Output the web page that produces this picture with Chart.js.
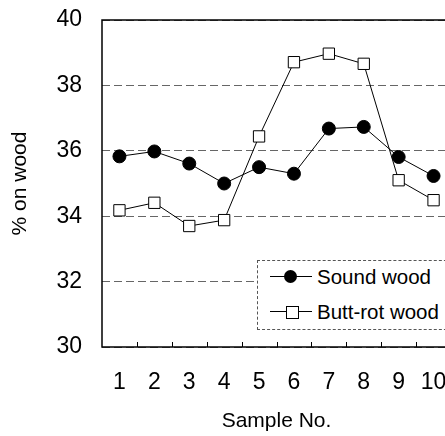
<!DOCTYPE html>
<html>
<head>
<meta charset="utf-8">
<script src="https://cdn.jsdelivr.net/npm/chart.js@4"></script>
<style>
  html, body { margin: 0; padding: 0; background: #fff; overflow: hidden; }
  #wrap { position: relative; width: 445px; height: 436px; overflow: hidden; }
  #grafik { display: block; }
  #legende {
    position: absolute; left: 257px; top: 260px; width: 200px; height: 70px;
    border: 1px dashed #555; box-sizing: border-box; background: #fff;
    font-family: "Liberation Sans", Arial, sans-serif; font-size: 20.5px; color: #000;
  }
  .satir { position: absolute; left: 12px; height: 24px; line-height: 24px; white-space: nowrap; }
  .ornek { display: inline-block; position: relative; width: 42px; height: 24px; vertical-align: top; margin-right: 5px; }
  .ornek .cizgi { position: absolute; left: 0; right: 0; top: 11.5px; border-top: 1px solid #000; }
  .ornek .daire { position: absolute; left: 13.5px; top: 5.5px; width: 13px; height: 13px; border-radius: 50%; background: #000; }
  .ornek .kare { position: absolute; left: 16px; top: 6px; width: 11px; height: 11px; border: 1px solid #000; background: #fff; }
</style>
</head>
<body>
<div id="wrap">
  <canvas id="grafik" width="460" height="436"></canvas>
  <div id="legende">
    <div class="satir" style="top:3.5px"><span class="ornek"><span class="cizgi"></span><span class="daire"></span></span><span id="lbl1"></span></div>
    <div class="satir" style="top:38.5px"><span class="ornek"><span class="cizgi"></span><span class="kare"></span></span><span id="lbl2"></span></div>
  </div>
</div>
<script>
// Veriler
const ornekNo = ['1', '2', '3', '4', '5', '6', '7', '8', '9', '10'];
const saglamOdun = [35.83, 35.98, 35.61, 35.0, 35.5, 35.3, 36.68, 36.73, 35.81, 35.23];
const curukOdun = [34.18, 34.41, 33.7, 33.88, 36.44, 38.71, 38.97, 38.66, 35.1, 34.49];
const seriAdlari = ['Sound wood', 'Butt-rot wood'];
const yMin = 30, yMax = 40, yAdim = 2;

document.getElementById('lbl1').textContent = seriAdlari[0];
document.getElementById('lbl2').textContent = seriAdlari[1];

const yazi = "'Liberation Sans', Arial, sans-serif";

// Çizim alanının çerçevesi + alt eksendeki iç çentikler
const cerceve = {
    id: 'cerceve',
    afterDatasetsDraw(chart) {
        const a = chart.chartArea;
        const x = chart.scales.x;
        const ctx = chart.ctx;
        ctx.save();
        ctx.strokeStyle = '#000';
        ctx.lineWidth = 1;
        ctx.beginPath();
        for (let i = 1; i < ornekNo.length; i++) {
            const px = Math.round((x.getPixelForValue(i - 1) + x.getPixelForValue(i)) / 2) + 0.5;
            ctx.moveTo(px, a.bottom);
            ctx.lineTo(px, a.bottom - 5);
        }
        ctx.stroke();
        ctx.lineWidth = 1.5;
        ctx.strokeRect(a.left, a.top, a.right - a.left, a.bottom - a.top);
        ctx.restore();
    }
};

const ctx = document.getElementById('grafik').getContext('2d');
new Chart(ctx, {
    type: 'line',
    data: {
        labels: ornekNo,
        datasets: [
            {
                label: seriAdlari[0],
                data: saglamOdun,
                borderColor: '#000',
                borderWidth: 1,
                backgroundColor: '#000',
                pointStyle: 'circle',
                pointRadius: 6.5,
                pointBorderColor: '#000',
                pointBackgroundColor: '#000',
                tension: 0
            },
            {
                label: seriAdlari[1],
                data: curukOdun,
                borderColor: '#000',
                borderWidth: 1,
                backgroundColor: '#fff',
                pointStyle: 'rect',
                pointRadius: 8,
                pointBorderWidth: 1,
                pointBorderColor: '#000',
                pointBackgroundColor: '#fff',
                tension: 0
            }
        ]
    },
    options: {
        responsive: false,
        animation: false,
        layout: { padding: { top: 20, right: 8, left: 0, bottom: 0 } },
        plugins: {
            legend: { display: false },
            tooltip: { enabled: false }
        },
        scales: {
            x: {
                offset: true,
                grid: { display: false, drawTicks: false },
                border: { display: false },
                ticks: { color: '#000', padding: 22, font: { family: yazi, size: 23 } },
                title: {
                    display: true,
                    text: 'Sample No.',
                    color: '#000',
                    padding: { top: 0, bottom: 2 },
                    font: { family: yazi, size: 21 }
                },
                afterFit(scale) {
                    scale.height = 89;
                    scale.paddingRight = 0;
                }
            },
            y: {
                min: yMin,
                max: yMax,
                ticks: { stepSize: yAdim, color: '#000', padding: 20, font: { family: yazi, size: 23 } },
                grid: { color: '#666', lineWidth: 1, drawTicks: false },
                border: { display: false, dash: [8, 4] },
                title: {
                    display: true,
                    text: '% on wood',
                    color: '#000',
                    padding: { top: 8, bottom: 0 },
                    font: { family: yazi, size: 21 }
                },
                afterFit(scale) {
                    scale.width = 102;
                    // etiket boşluğu üst kenarı aşağı itmesin
                    scale.paddingTop = 10;
                    scale.paddingBottom = 10;
                }
            }
        }
    },
    plugins: [cerceve]
});
</script>
</body>
</html>
